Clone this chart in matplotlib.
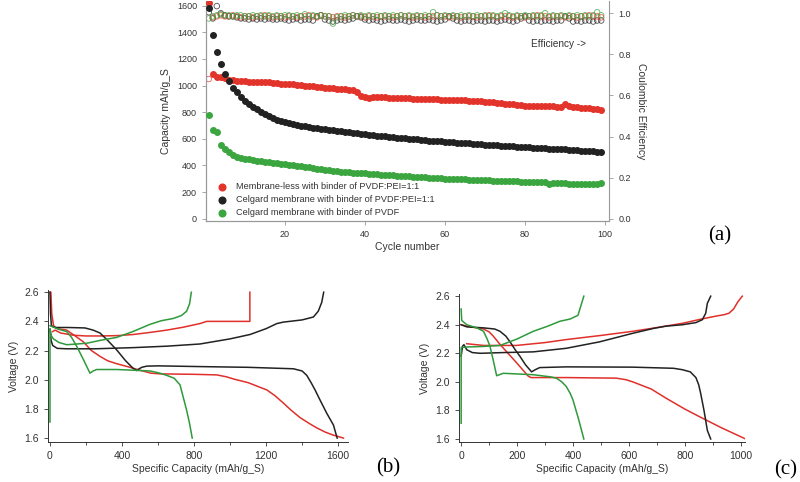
import numpy as np
import matplotlib.pyplot as plt

# ---- panel (a): cycling data ----
cycles = np.arange(1, 100)

cap_red = [1620, 1087, 1066, 1061, 1054, 1042, 1040, 1037, 1036, 1034,
           1030, 1028, 1025, 1024, 1027, 1026, 1022, 1018, 1015, 1012,
           1010, 1008, 1005, 1002, 999, 996, 993, 990, 986, 982,
           980, 978, 976, 974, 972, 970, 967, 949, 925, 912,
           910, 912, 911, 913, 912, 910, 908, 907, 905, 904,
           903, 902, 901, 900, 899, 898, 897, 896, 895, 895,
           893, 892, 890, 889, 888, 886, 885, 884, 882, 880,
           878, 876, 872, 868, 865, 862, 858, 855, 852, 850,
           849, 848, 847, 846, 845, 844, 843, 842, 840, 860,
           845, 840, 836, 834, 832, 828, 825, 822, 817]
cap_black = [1580, 1378, 1253, 1161, 1087, 1032, 982, 949, 917, 887,
             862, 842, 822, 805, 788, 773, 758, 745, 733, 723,
             716, 710, 704, 698, 693, 688, 684, 680, 676, 672,
             668, 664, 660, 656, 652, 648, 645, 641, 637, 633,
             630, 627, 624, 621, 618, 615, 612, 609, 606, 603,
             600, 598, 595, 592, 590, 587, 585, 582, 580, 577,
             575, 573, 571, 569, 567, 565, 563, 561, 559, 557,
             555, 553, 551, 549, 547, 545, 543, 541, 539, 537,
             535, 533, 532, 530, 529, 527, 526, 524, 522, 520,
             518, 516, 514, 512, 510, 508, 506, 504, 502]
cap_green = [782, 668, 655, 553, 523, 501, 481, 463, 454, 448,
             445, 441, 437, 433, 429, 425, 421, 417, 413, 410,
             407, 403, 399, 394, 390, 386, 380, 376, 371, 367,
             364, 360, 357, 354, 351, 349, 347, 345, 342, 340,
             338, 336, 334, 332, 330, 328, 326, 324, 322, 320,
             318, 316, 314, 312, 310, 309, 307, 305, 304, 302,
             301, 299, 298, 297, 296, 294, 293, 292, 290, 289,
             288, 287, 286, 285, 284, 283, 282, 280, 279, 277,
             276, 275, 274, 274, 273, 259, 268, 267, 266, 265,
             264, 264, 263, 263, 262, 262, 263, 264, 265]

eff_red = [0.68, 0.98, 0.985, 0.99, 0.985, 0.985, 0.99, 0.985, 0.98, 0.985,
           0.985, 0.98, 0.985, 0.985, 0.99, 0.985, 0.98, 0.985, 0.985, 0.98,
           0.985, 0.985, 0.98, 0.985, 0.985, 0.99, 0.985, 0.98, 0.99, 0.985,
           0.985, 0.98, 0.985, 0.985, 0.98, 0.985, 0.99, 0.985, 0.985, 0.98,
           0.985, 0.985, 0.98, 0.985, 0.985, 0.985, 0.98, 0.985, 0.99, 0.985,
           0.985, 0.98, 0.985, 0.985, 0.98, 0.985, 0.985, 0.99, 0.985, 0.985,
           0.98, 0.985, 0.985, 0.98, 0.985, 0.985, 0.985, 0.98, 0.985, 0.985,
           0.99, 0.985, 0.98, 0.985, 0.985, 0.985, 0.98, 0.985, 0.985, 0.98,
           0.985, 0.985, 0.99, 0.985, 0.985, 0.98, 0.985, 0.985, 0.985, 0.98,
           0.985, 0.985, 0.98, 0.985, 0.985, 0.99, 0.985, 0.985, 0.98]
eff_black = [1.005, 0.975, 1.035, 1.0, 0.99, 0.985, 0.985, 0.98, 0.975, 0.975,
             0.97, 0.975, 0.97, 0.975, 0.97, 0.975, 0.97, 0.97, 0.975, 0.97,
             0.965, 0.97, 0.975, 0.965, 0.97, 0.97, 0.965, 0.985, 0.99, 0.97,
             0.965, 0.96, 0.965, 0.97, 0.965, 0.97, 0.975, 0.985, 0.98, 0.97,
             0.965, 0.97, 0.965, 0.96, 0.965, 0.97, 0.965, 0.965, 0.97, 0.965,
             0.96, 0.965, 0.97, 0.965, 0.965, 0.97, 0.965, 0.96, 0.965, 0.97,
             0.985, 0.975, 0.965, 0.96, 0.965, 0.965, 0.96, 0.965, 0.965, 0.96,
             0.965, 0.965, 0.96, 0.965, 0.97, 0.965, 0.96, 0.965, 0.975, 0.985,
             0.965, 0.96, 0.965, 0.96, 0.965, 0.965, 0.96, 0.965, 0.965, 0.985,
             0.975, 0.96, 0.965, 0.96, 0.965, 0.965, 0.96, 0.965, 0.965]
eff_green = [0.975, 0.985, 0.99, 0.995, 0.99, 0.99, 0.985, 0.99, 0.99, 0.985,
             0.985, 0.99, 0.985, 0.99, 0.985, 0.99, 0.985, 0.99, 0.985, 0.99,
             0.99, 0.985, 0.99, 0.985, 0.995, 0.985, 0.99, 0.985, 0.99, 0.985,
             0.985, 0.95, 0.98, 0.985, 0.99, 0.985, 0.99, 0.985, 0.99, 0.985,
             0.99, 0.985, 0.99, 0.985, 0.99, 0.985, 0.99, 0.985, 0.99, 0.985,
             0.99, 0.985, 0.99, 0.985, 0.99, 0.985, 1.005, 0.99, 0.985, 0.99,
             0.985, 0.99, 0.985, 0.99, 0.985, 0.99, 0.985, 0.99, 0.985, 0.99,
             0.985, 0.99, 0.985, 0.99, 1.0, 0.99, 0.985, 0.99, 0.985, 0.99,
             0.985, 0.99, 0.985, 0.99, 1.0, 0.985, 0.99, 0.985, 0.99, 0.985,
             0.99, 0.985, 0.99, 0.985, 0.99, 0.985, 0.99, 1.005, 0.99]

labels = ["Membrane-less with binder of PVDF:PEI=1:1",
          "Celgard membrane with binder of PVDF:PEI=1:1",
          "Celgard membrane with binder of PVDF"]

# ---- panel (b): voltage profiles ----
b_red_dis_x = [0, 5, 10, 20, 40, 93, 140, 185, 230, 278, 320, 370, 430, 500, 560, 611, 800, 926,
               980, 1019, 1100, 1204, 1250, 1296, 1340, 1389, 1440, 1481, 1530, 1574, 1630]
b_red_dis_v = [2.60, 2.60, 2.45, 2.37, 2.35, 2.34, 2.30, 2.26, 2.20, 2.16, 2.13, 2.11, 2.09, 2.065,
               2.045, 2.04, 2.037, 2.033, 2.02, 2.005, 1.98, 1.93, 1.89, 1.84, 1.79, 1.74, 1.70,
               1.67, 1.64, 1.62, 1.60]
b_red_chg_x = [15, 28, 60, 130, 200, 278, 370, 463, 560, 648, 740, 833, 870, 1000, 1110, 1110]
b_red_chg_v = [2.33, 2.34, 2.32, 2.305, 2.30, 2.30, 2.302, 2.31, 2.325, 2.34, 2.36, 2.385, 2.40,
               2.40, 2.40, 2.60]
b_blk_dis_x = [0, 3, 8, 30, 100, 194, 240, 278, 320, 370, 420, 460, 481, 495, 510, 537, 600, 833,
               1100, 1352, 1400, 1426, 1450, 1472, 1500, 1537, 1560, 1574, 1590, 1595]
b_blk_dis_v = [2.60, 2.45, 2.37, 2.358, 2.358, 2.355, 2.34, 2.32, 2.27, 2.205, 2.13, 2.08, 2.063,
               2.075, 2.085, 2.093, 2.095, 2.09, 2.085, 2.075, 2.06, 2.03, 1.98, 1.93, 1.86, 1.77,
               1.72, 1.69, 1.62, 1.60]
b_blk_chg_x = [2, 6, 15, 40, 93, 250, 463, 650, 833, 1000, 1111, 1200, 1260, 1296, 1400, 1463,
               1490, 1509, 1520]
b_blk_chg_v = [2.33, 2.27, 2.235, 2.215, 2.212, 2.212, 2.22, 2.23, 2.245, 2.28, 2.31, 2.35, 2.385,
               2.395, 2.41, 2.43, 2.47, 2.53, 2.60]
b_grn_dis_x = [0, 50, 93, 120, 148, 185, 222, 240, 259, 370, 556, 610, 648, 690, 722, 740, 759,
               775, 790]
b_grn_dis_v = [2.37, 2.345, 2.33, 2.29, 2.23, 2.14, 2.045, 2.06, 2.07, 2.07, 2.06, 2.045, 2.03,
               2.01, 1.965, 1.88, 1.79, 1.70, 1.60]
b_grn_chg_x = [0, 0, 8, 19, 50, 93, 150, 204, 280, 370, 460, 556, 620, 685, 730, 759, 775, 785]
b_grn_chg_v = [1.71, 2.35, 2.30, 2.28, 2.255, 2.24, 2.245, 2.25, 2.27, 2.29, 2.33, 2.38, 2.405,
               2.42, 2.44, 2.47, 2.52, 2.60]

# ---- panel (c): voltage profiles ----
c_red_dis_x = [0, 20, 50, 80, 100, 115, 140, 163, 200, 240, 250, 376, 555, 590, 614, 680, 733,
               800, 852, 930, 1018]
c_red_dis_v = [2.40, 2.39, 2.38, 2.37, 2.35, 2.32, 2.26, 2.21, 2.13, 2.04, 2.03, 2.03, 2.026,
               2.015, 2.00, 1.95, 1.886, 1.81, 1.757, 1.68, 1.60]
c_red_chg_x = [20, 80, 198, 300, 376, 500, 614, 700, 792, 860, 911, 940, 958, 975, 990, 1006]
c_red_chg_v = [2.267, 2.255, 2.255, 2.275, 2.296, 2.325, 2.354, 2.38, 2.41, 2.44, 2.46, 2.47,
               2.48, 2.51, 2.56, 2.60]
c_blk_dis_x = [0, 20, 80, 120, 139, 160, 175, 195, 210, 230, 252, 265, 281, 376, 614, 760, 792,
               820, 840, 850, 857, 869, 881, 893]
c_blk_dis_v = [2.40, 2.385, 2.378, 2.37, 2.354, 2.32, 2.28, 2.22, 2.18, 2.12, 2.07, 2.085, 2.10,
               2.105, 2.103, 2.095, 2.085, 2.07, 2.03, 1.98, 1.92, 1.80, 1.66, 1.60]
c_blk_chg_x = [0, 5, 10, 20, 40, 68, 150, 258, 376, 495, 614, 690, 733, 792, 840, 863, 875, 881,
               893]
c_blk_chg_v = [2.18, 2.25, 2.26, 2.225, 2.205, 2.20, 2.205, 2.21, 2.235, 2.28, 2.34, 2.375, 2.39,
               2.40, 2.415, 2.435, 2.48, 2.55, 2.60]
c_grn_dis_x = [0, 2, 20, 56, 80, 93, 103, 115, 127, 151, 258, 320, 341, 360, 376, 390, 400, 420,
               439]
c_grn_dis_v = [2.51, 2.43, 2.40, 2.378, 2.354, 2.30, 2.25, 2.15, 2.043, 2.06, 2.05, 2.035, 2.026,
               2.00, 1.968, 1.92, 1.874, 1.74, 1.60]
c_grn_chg_x = [0, 0, 20, 80, 139, 200, 258, 310, 353, 390, 418, 428, 439]
c_grn_chg_v = [1.71, 2.24, 2.244, 2.248, 2.255, 2.30, 2.354, 2.39, 2.424, 2.44, 2.466, 2.53, 2.60]

red = "#e3342b"
black = "#222222"
green = "#3ba63f"
red_l = "#e0302a"
green_l = "#2e9a3c"
txt = "#333333"

plt.rcParams['font.family'] = ['Liberation Sans', 'DejaVu Sans']
fig = plt.figure(figsize=(8, 4.82), dpi=100)

# ---------- (a) ----------
ax = fig.add_axes([0.2575, 0.542, 0.504, 0.456])
ax2 = ax.twinx()
ax.set_zorder(2)
ax.patch.set_visible(False)
for c, e in [(black, eff_black), (red, eff_red), (green, eff_green)]:
    ax2.scatter(cycles, e, s=16, facecolors='none', edgecolors=c, linewidths=0.6, alpha=0.8)
ax.scatter(cycles, cap_red, s=16, color=red, label=labels[0], zorder=3)
ax.scatter(cycles, cap_black, s=16, color=black, label=labels[1], zorder=3)
ax.scatter(cycles, cap_green, s=16, color=green, label=labels[2], zorder=3)
ax.set_xlim(0.3, 101)
ax.set_ylim(-15, 1635)
ax2.set_ylim(-0.01, 1.06)
ax.set_xticks([20, 40, 60, 80, 100])
ax.set_yticks(range(0, 1601, 200))
ax2.set_yticks([0.0, 0.2, 0.4, 0.6, 0.8, 1.0])
ax2.set_yticklabels(["0.0", "0.2", "0.4", "0.6", "0.8", "1.0"])
for a in (ax, ax2):
    for s in a.spines.values():
        s.set_color("#999999")
    a.spines['top'].set_visible(False)
    a.tick_params(labelsize=6.5, colors=txt, length=3, width=0.6)
    a.tick_params(axis='both', color="#999999")
ax.spines['right'].set_visible(False)
ax.set_xlabel("Cycle number", fontsize=7.5, color=txt, labelpad=2)
ax.set_ylabel("Capacity mAh/g_S", fontsize=7.5, color=txt, labelpad=4)
ax2.set_ylabel("Coulombic Efficiency", fontsize=7.5, color=txt, rotation=270, labelpad=11)
ax.text(0.805, 0.79, "Efficiency ->", transform=ax.transAxes, fontsize=7.2, color=txt)
leg = ax.legend(loc='lower left', frameon=False, fontsize=6.6, handletextpad=0.6,
                labelspacing=0.42, borderaxespad=0.3, markerscale=1.2,
                bbox_to_anchor=(0.0, -0.012))
for t in leg.get_texts():
    t.set_color(txt)
fig.text(0.9, 0.51, "(a)", fontsize=15, family='Liberation Serif', ha='center', va='center')

# ---------- (b) and (c) ----------
def profile(rect, curves, xlim, ylim, xticks, xlabels, minor):
    a = fig.add_axes(rect)
    for x, v, c in curves:
        a.plot(x, v, color=c, lw=1.1)
    a.set_xlim(*xlim)
    a.set_ylim(*ylim)
    a.set_xticks(xticks)
    a.set_xticklabels(xlabels)
    a.set_xticks(minor, minor=True)
    a.set_yticks([1.6, 1.8, 2.0, 2.2, 2.4, 2.6])
    a.spines['top'].set_visible(False)
    a.spines['right'].set_visible(False)
    for s in ('left', 'bottom'):
        a.spines[s].set_color(txt)
        a.spines[s].set_linewidth(0.7)
    a.tick_params(labelsize=7.5, colors=txt, length=3, width=0.6)
    a.tick_params(which='minor', length=2, width=0.6, color=txt)
    a.set_xlabel("Specific Capacity (mAh/g_S)", fontsize=7.5, color=txt, labelpad=2)
    a.set_ylabel("Voltage (V)", fontsize=7.5, color=txt, labelpad=4)
    return a

profile([0.06, 0.083, 0.375, 0.315],
        [(b_red_dis_x, b_red_dis_v, red_l), (b_red_chg_x, b_red_chg_v, red_l),
         (b_blk_dis_x, b_blk_dis_v, black), (b_blk_chg_x, b_blk_chg_v, black),
         (b_grn_dis_x, b_grn_dis_v, green_l), (b_grn_chg_x, b_grn_chg_v, green_l)],
        (-11, 1655), (1.573, 2.614), [0, 400, 800, 1200, 1600],
        ["0", "400", "800", "1200", "1600"], [200, 600, 1000, 1400])
fig.text(0.485, 0.03, "(b)", fontsize=15, family='Liberation Serif', ha='center', va='center')

profile([0.574, 0.083, 0.357, 0.307],
        [(c_red_dis_x, c_red_dis_v, red_l), (c_red_chg_x, c_red_chg_v, red_l),
         (c_blk_dis_x, c_blk_dis_v, black), (c_blk_chg_x, c_blk_chg_v, black),
         (c_grn_dis_x, c_grn_dis_v, green_l), (c_grn_chg_x, c_grn_chg_v, green_l)],
        (-7, 1015), (1.579, 2.615), [0, 200, 400, 600, 800, 1000],
        ["0", "200", "400", "600", "800", "1000"], [100, 300, 500, 700, 900])
fig.text(0.982, 0.025, "(c)", fontsize=15, family='Liberation Serif', ha='center', va='center')

fig.savefig("out.png", dpi=100)
